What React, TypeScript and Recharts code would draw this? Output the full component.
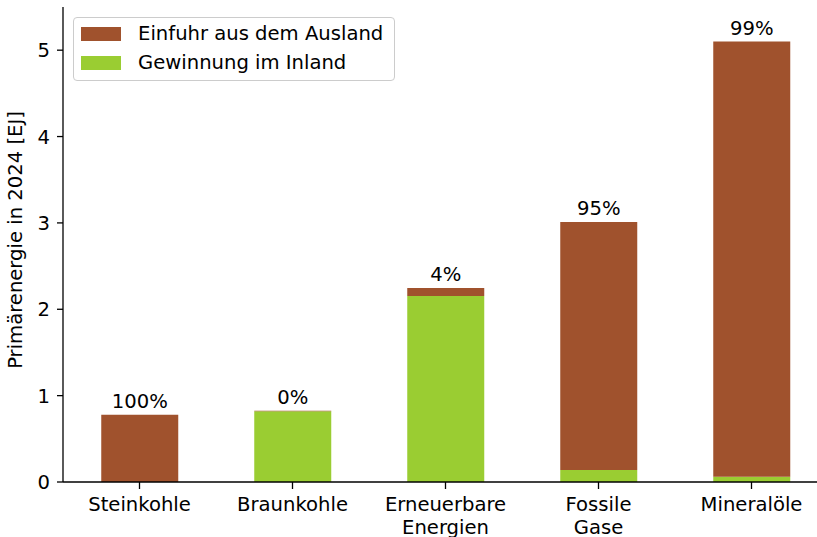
import { BarChart, Bar, XAxis, YAxis, Legend, LabelList } from "recharts";

const categories = ["Steinkohle", "Braunkohle", "Erneuerbare\nEnergien", "Fossile\nGase", "Mineralöle"];
const importEJ = [0.78, 0.005, 0.09, 2.87, 5.04];
const domesticEJ = [0.0, 0.82, 2.155, 0.14, 0.06];
const importShare = ["100%", "0%", "4%", "95%", "99%"];
const yTicks = [0, 1, 2, 3, 4, 5];

const BROWN = "#A0522D";
const GREEN = "#9ACD32";
const FONT = "'DejaVu Sans', sans-serif";
const FS = 19.6;

const data = categories.map((name, i) => ({
  name,
  ausland: importEJ[i],
  inland: domesticEJ[i],
  share: importShare[i],
}));

function CategoryTick({ x, y, payload }: any) {
  const lines = String(payload.value).split("\n");
  return (
    <text x={x} y={y} textAnchor="middle" fontFamily={FONT} fontSize={FS} fill="#000">
      {lines.map((l, i) => (
        <tspan key={i} x={x} dy={i === 0 ? 20 : 23.4}>
          {l}
        </tspan>
      ))}
    </text>
  );
}

function LegendBox() {
  const items = [
    { label: "Einfuhr aus dem Ausland", color: BROWN },
    { label: "Gewinnung im Inland", color: GREEN },
  ];
  return (
    <div
      style={{
        width: 322,
        height: 64,
        border: "1px solid #cccccc",
        borderRadius: 4,
        background: "rgba(255,255,255,0.8)",
        boxSizing: "border-box",
        fontFamily: FONT,
        fontSize: FS,
        color: "#000",
        paddingTop: 1,
      }}
    >
      {items.map((it) => (
        <div key={it.label} style={{ display: "flex", alignItems: "center", height: 29 }}>
          <span style={{ display: "inline-block", width: 40, height: 14, background: it.color, marginLeft: 7, marginRight: 17 }} />
          <span>{it.label}</span>
        </div>
      ))}
    </div>
  );
}

export default function App() {
  return (
    <div style={{ position: "fixed", left: 0, top: 0, width: 817, height: 537, overflow: "hidden", background: "#fff" }}>
      <BarChart
        width={840}
        height={560}
        data={data}
        margin={{ top: 7, right: 12, bottom: 0, left: 0 }}
        barCategoryGap="25%"
      >
        <XAxis
          dataKey="name"
          interval={0}
          tick={<CategoryTick />}
          tickSize={7}
          tickMargin={2}
          height={78}
          stroke="#000"
          strokeWidth={1.3}
        />
        <XAxis xAxisId="top" orientation="top" dataKey="name" height={0} tick={false} tickLine={false} stroke="#000" strokeWidth={1.3} />
        <YAxis
          width={63}
          domain={[0, 5.5]}
          ticks={yTicks}
          interval={0}
          tickSize={6}
          tickMargin={7}
          stroke="#000"
          strokeWidth={1.3}
          tick={{ fontSize: FS, fontFamily: FONT, fill: "#000" }}
          label={{
            content: () => (
              <text x={22} y={240} transform="rotate(-90, 22, 240)" textAnchor="middle" fontFamily={FONT} fontSize={FS} fill="#000">
                Primärenergie in 2024 [EJ]
              </text>
            ),
          }}
        />
        <YAxis yAxisId="right" orientation="right" width={0} tick={false} tickLine={false} stroke="#000" strokeWidth={1.3} />
        <Legend
          layout="vertical"
          align="center"
          verticalAlign="middle"
          wrapperStyle={{ position: "absolute", left: 73, top: 17, width: 322 }}
          content={() => <LegendBox />}
        />
        <Bar dataKey="inland" stackId="a" fill={GREEN} isAnimationActive={false} legendType="none" />
        <Bar dataKey="ausland" stackId="a" fill={BROWN} isAnimationActive={false}>
          <LabelList dataKey="share" position="top" offset={7} fontSize={FS} fontFamily={FONT} fill="#000" />
        </Bar>
      </BarChart>
    </div>
  );
}
